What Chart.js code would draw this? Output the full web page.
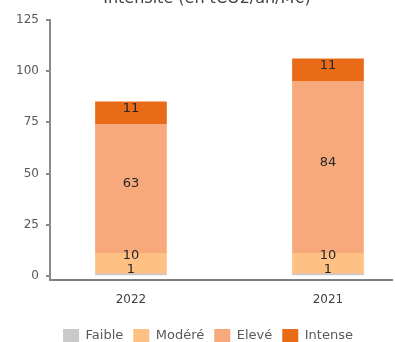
<!DOCTYPE html>
<html>
<head>
<meta charset="utf-8">
<script src="https://cdn.jsdelivr.net/npm/chart.js@4"></script>
<style>
  html, body { margin: 0; padding: 0; background: #fff; overflow: hidden; }
  #wrap { width: 395px; height: 352px; }
</style>
</head>
<body>
<div id="wrap"><canvas id="chart" width="395" height="352"></canvas></div>
<script>
// données
const TITLE = 'Intensité (en tCO2/an/M€)';
const years = ['2022', '2021'];
const faible = [1, 1];
const modere = [10, 10];
const eleve = [63, 84];
const intense = [11, 11];

const COLORS = {
  faible: '#c9c9c9',
  modere: '#ffc183',
  eleve: '#f7a97b',
  intense: '#e96a17',
  axis: '#8a8a8a',
  text: '#404040'
};

const FONT = 'DejaVu Sans';

// titre (coupé en haut dans l'original) + décalage de la légende
const titlePlugin = {
  id: 'cutTitle',
  afterLayout(chart) {
    chart.legend.left += 12;
    chart.legend.right += 12;
  },
  afterDraw(chart) {
    const ctx = chart.ctx;
    ctx.save();
    ctx.font = '16px "' + FONT + '"';
    ctx.fillStyle = COLORS.text;
    ctx.textAlign = 'center';
    ctx.textBaseline = 'alphabetic';
    ctx.fillText(TITLE, 207, 3);
    ctx.restore();
  }
};

// étiquettes de valeurs dans les segments
const valueLabels = {
  id: 'valueLabels',
  afterDatasetsDraw(chart) {
    const ctx = chart.ctx;
    ctx.save();
    ctx.font = '13px "' + FONT + '"';
    ctx.fillStyle = '#262626';
    ctx.textAlign = 'center';
    ctx.textBaseline = 'middle';
    chart.data.datasets.forEach((ds, di) => {
      const meta = chart.getDatasetMeta(di);
      meta.data.forEach((bar, i) => {
        const v = ds.data[i].y;
        let y = (bar.y + bar.base) / 2 - 5;
        if (di === 1) y -= 3;
        ctx.fillText(String(v), bar.x, y);
      });
    });
    ctx.restore();
  }
};

function points(values) {
  return values.map((v, i) => ({ x: i, y: v }));
}

function makeDataset(label, values, color) {
  return {
    label: label,
    data: points(values),
    backgroundColor: color,
    borderWidth: 0,
    barThickness: 71,
    stack: 'total'
  };
}

new Chart(document.getElementById('chart'), {
  type: 'bar',
  data: {
    datasets: [
      makeDataset('Faible', faible, COLORS.faible),
      makeDataset('Modéré', modere, COLORS.modere),
      makeDataset('Elevé', eleve, COLORS.eleve),
      makeDataset('Intense', intense, COLORS.intense)
    ]
  },
  options: {
    responsive: false,
    animation: false,
    layout: { padding: { top: 20, left: 0, right: 3, bottom: 0 } },
    plugins: {
      tooltip: { enabled: false },
      legend: {
        position: 'bottom',
        labels: {
          boxWidth: 16,
          boxHeight: 13,
          padding: 10,
          color: '#595959',
          font: { family: FONT, size: 13 }
        }
      }
    },
    scales: {
      x: {
        type: 'linear',
        offset: false,
        min: -0.411,
        max: 1.325,
        grid: { display: false },
        border: { display: true, color: '#7f7f7f', width: 2 },
        afterBuildTicks: axis => {
          axis.ticks = axis.ticks.filter(t => Number.isInteger(t.value) && years[t.value] !== undefined);
        },
        afterFit: axis => { axis.height = 39; },
        ticks: {
          stepSize: 1,
          padding: 5,
          color: COLORS.text,
          font: { family: FONT, size: 12 },
          callback: v => years[v] ?? ''
        }
      },
      y: {
        min: -2,
        max: 125,
        afterBuildTicks: axis => {
          const ticks = [];
          for (let v = 0; v <= axis.max; v += 25) ticks.push({ value: v });
          axis.ticks = ticks;
        },
        afterFit: axis => { axis.width = 50; },
        grid: {
          drawOnChartArea: false,
          drawTicks: true,
          tickLength: 4,
          color: COLORS.axis,
          lineWidth: 2
        },
        border: { display: true, color: COLORS.axis, width: 2 },
        ticks: {
          stepSize: 25,
          padding: 7,
          color: '#595959',
          font: { family: FONT, size: 12 }
        }
      }
    }
  },
  plugins: [titlePlugin, valueLabels]
});
</script>
</body>
</html>
